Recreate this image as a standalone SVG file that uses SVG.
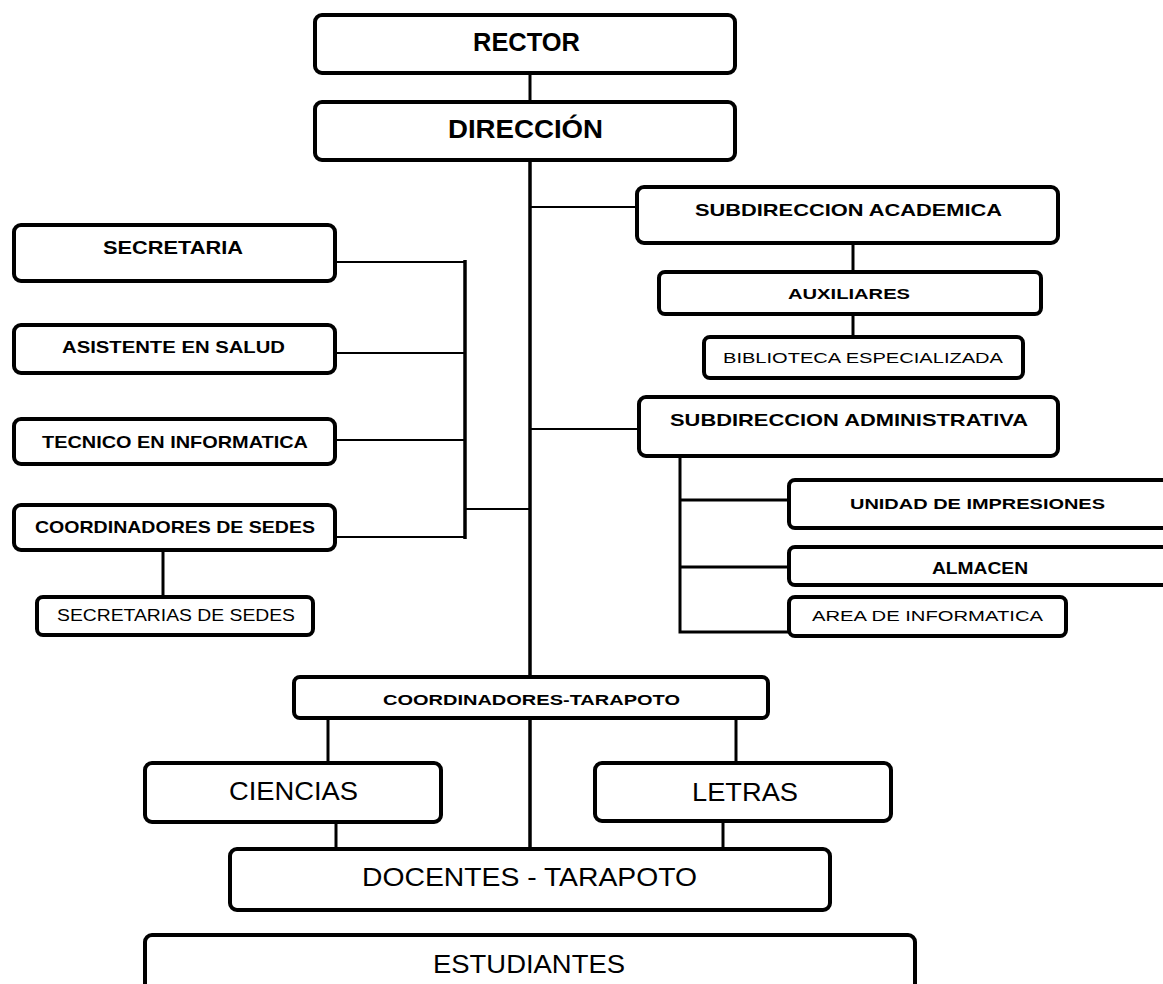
<svg xmlns="http://www.w3.org/2000/svg" width="1163" height="984" viewBox="0 0 1163 984">
  <style>
    .box { fill: #ffffff; stroke: #000000; stroke-width: 4; }
    .thin { stroke: #000000; stroke-width: 2; fill: none; }
    .mid { stroke: #000000; stroke-width: 3; fill: none; }
    .bar { stroke: #000000; stroke-width: 3.5; fill: none; }
    text { font-family: "Liberation Sans", Arial, sans-serif; fill: #000000; text-anchor: middle; }
    .b { font-weight: bold; }
  </style>
  <rect width="1163" height="984" fill="#ffffff"/>

  <!-- connectors -->
  <g id="connectors">
    <line class="mid" x1="530" y1="73" x2="530" y2="102"/>
    <line class="bar" x1="530" y1="160" x2="530" y2="677"/>
    <line class="thin" x1="530" y1="207" x2="637" y2="207"/>
    <line class="thin" x1="530" y1="429" x2="639" y2="429"/>
    <line class="mid" x1="853" y1="243" x2="853" y2="272"/>
    <line class="mid" x1="853" y1="314" x2="853" y2="337"/>
    <!-- staff branch on the left -->
    <line class="thin" x1="465" y1="509" x2="530" y2="509"/>
    <line class="bar" x1="465" y1="260" x2="465" y2="539"/>
    <line class="thin" x1="335" y1="262" x2="465" y2="262"/>
    <line class="thin" x1="335" y1="353" x2="465" y2="353"/>
    <line class="thin" x1="335" y1="440" x2="465" y2="440"/>
    <line class="thin" x1="335" y1="537" x2="465" y2="537"/>
    <line class="mid" x1="163" y1="550" x2="163" y2="597"/>
    <!-- administrative units -->
    <polyline class="mid" points="680,458 680,632 789,632"/>
    <line class="mid" x1="680" y1="500" x2="789" y2="500"/>
    <line class="mid" x1="680" y1="567" x2="789" y2="567"/>
    <!-- lower levels -->
    <line class="mid" x1="328" y1="718" x2="328" y2="763"/>
    <line class="mid" x1="736" y1="718" x2="736" y2="763"/>
    <line class="bar" x1="530" y1="718" x2="530" y2="849"/>
    <line class="mid" x1="336" y1="822" x2="336" y2="849"/>
    <line class="mid" x1="723" y1="821" x2="723" y2="849"/>
  </g>

  <g id="rector">
    <rect class="box" x="315" y="15" width="420" height="58" rx="7"/>
    <text class="b" x="526.5" y="51" font-size="25" textLength="107" lengthAdjust="spacingAndGlyphs">RECTOR</text>
  </g>
  <g id="direccion">
    <rect class="box" x="315" y="102" width="420" height="58" rx="7"/>
    <text class="b" x="525.5" y="138" font-size="26" textLength="155" lengthAdjust="spacingAndGlyphs">DIRECCIÓN</text>
  </g>

  <g id="subdireccion-academica">
    <rect class="box" x="637" y="187" width="421" height="56" rx="7"/>
    <text class="b" x="848.5" y="216" font-size="17" textLength="307" lengthAdjust="spacingAndGlyphs">SUBDIRECCION ACADEMICA</text>
  </g>
  <g id="auxiliares">
    <rect class="box" x="659" y="272" width="382" height="42" rx="6"/>
    <text class="b" x="849" y="299" font-size="15" textLength="122" lengthAdjust="spacingAndGlyphs">AUXILIARES</text>
  </g>
  <g id="biblioteca">
    <rect class="box" x="704" y="337" width="319" height="41" rx="6"/>
    <text x="863" y="363" font-size="15" textLength="280" lengthAdjust="spacingAndGlyphs">BIBLIOTECA ESPECIALIZADA</text>
  </g>
  <g id="subdireccion-administrativa">
    <rect class="box" x="639" y="397" width="419" height="59" rx="7"/>
    <text class="b" x="849" y="426" font-size="17" textLength="358" lengthAdjust="spacingAndGlyphs">SUBDIRECCION ADMINISTRATIVA</text>
  </g>
  <g id="unidad-impresiones">
    <rect class="box" x="789" y="480" width="420" height="48" rx="6"/>
    <text class="b" x="977.5" y="509" font-size="15.5" textLength="255" lengthAdjust="spacingAndGlyphs">UNIDAD DE IMPRESIONES</text>
  </g>
  <g id="almacen">
    <rect class="box" x="789" y="547" width="420" height="38" rx="6"/>
    <text class="b" x="980" y="574" font-size="16" textLength="96" lengthAdjust="spacingAndGlyphs">ALMACEN</text>
  </g>
  <g id="area-informatica">
    <rect class="box" x="789" y="597" width="277" height="39" rx="6"/>
    <text x="927.5" y="621" font-size="15" textLength="231" lengthAdjust="spacingAndGlyphs">AREA DE INFORMATICA</text>
  </g>

  <g id="secretaria">
    <rect class="box" x="14" y="225" width="321" height="56" rx="7"/>
    <text class="b" x="173" y="254" font-size="18" textLength="140" lengthAdjust="spacingAndGlyphs">SECRETARIA</text>
  </g>
  <g id="asistente-salud">
    <rect class="box" x="14" y="325" width="321" height="48" rx="7"/>
    <text class="b" x="173.5" y="353" font-size="17" textLength="223" lengthAdjust="spacingAndGlyphs">ASISTENTE EN SALUD</text>
  </g>
  <g id="tecnico-informatica">
    <rect class="box" x="14" y="419" width="321" height="45" rx="7"/>
    <text class="b" x="175" y="448" font-size="17" textLength="266" lengthAdjust="spacingAndGlyphs">TECNICO EN INFORMATICA</text>
  </g>
  <g id="coordinadores-sedes">
    <rect class="box" x="14" y="505" width="321" height="45" rx="7"/>
    <text class="b" x="175" y="533" font-size="17" textLength="280" lengthAdjust="spacingAndGlyphs">COORDINADORES DE SEDES</text>
  </g>
  <g id="secretarias-sedes">
    <rect class="box" x="37" y="597" width="276" height="38" rx="6"/>
    <text x="176" y="621" font-size="16" textLength="238" lengthAdjust="spacingAndGlyphs">SECRETARIAS DE SEDES</text>
  </g>

  <g id="coordinadores-tarapoto">
    <rect class="box" x="294" y="677" width="474" height="41" rx="6"/>
    <text class="b" x="531.5" y="705" font-size="15" textLength="297" lengthAdjust="spacingAndGlyphs">COORDINADORES-TARAPOTO</text>
  </g>
  <g id="ciencias">
    <rect class="box" x="145" y="763" width="296" height="59" rx="7"/>
    <text x="293.5" y="800" font-size="26" textLength="129" lengthAdjust="spacingAndGlyphs">CIENCIAS</text>
  </g>
  <g id="letras">
    <rect class="box" x="595" y="763" width="296" height="58" rx="7"/>
    <text x="745" y="801" font-size="26" textLength="106" lengthAdjust="spacingAndGlyphs">LETRAS</text>
  </g>
  <g id="docentes">
    <rect class="box" x="230" y="849" width="600" height="61" rx="7"/>
    <text x="529.5" y="886" font-size="26" textLength="335" lengthAdjust="spacingAndGlyphs">DOCENTES  - TARAPOTO</text>
  </g>
  <g id="estudiantes">
    <rect class="box" x="145" y="935" width="770" height="60" rx="7"/>
    <text x="529" y="973" font-size="26" textLength="192" lengthAdjust="spacingAndGlyphs">ESTUDIANTES</text>
  </g>
</svg>
